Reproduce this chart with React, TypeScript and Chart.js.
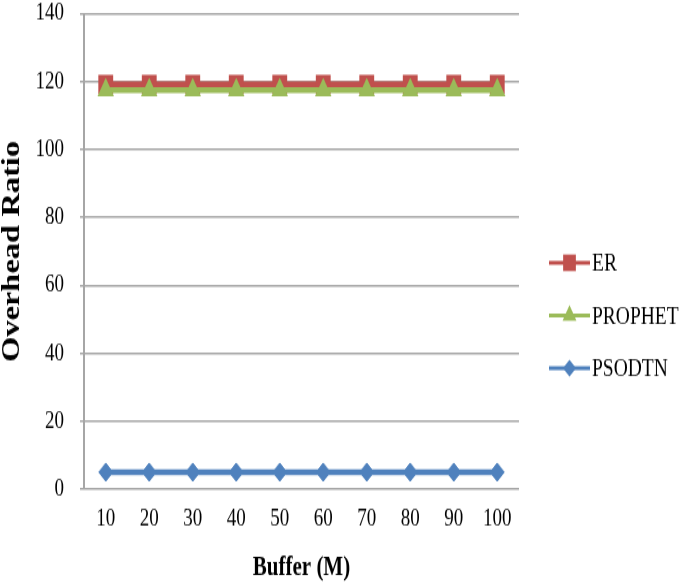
import React, { useEffect, useRef } from 'react';
import { Chart, registerables } from 'chart.js';

Chart.register(...registerables);

// ---- data ----
const categories = ['10', '20', '30', '40', '50', '60', '70', '80', '90', '100'];
const erValues = [119.2, 119.2, 119.2, 119.2, 119.2, 119.2, 119.2, 119.2, 119.2, 119.2];
const prophetValues = [117.5, 117.5, 117.5, 117.5, 117.5, 117.5, 117.5, 117.5, 117.5, 117.5];
const psodtnValues = [5, 5, 5, 5, 5, 5, 5, 5, 5, 5];
const seriesLabels = ['ER', 'PROPHET', 'PSODTN'];
const yMin = 0;
const yMax = 140;
const yStep = 20;
const xTitle = 'Buffer (M)';
const yTitle = 'Overhead Ratio';

// ---- layout (internal canvas is vertically stretched by CSS) ----
const W = 685;
const CSS_H = 588;
const H = 452;
const FONT = "'Liberation Serif', 'Times New Roman', serif";
const GRID = '#a6a6a6';

function drawMarker(ctx: CanvasRenderingContext2D, style: string, x: number, y: number, r: number) {
  ctx.beginPath();
  if (style === 'rect') {
    const s = r * Math.SQRT1_2;
    ctx.rect(x - s, y - s, 2 * s, 2 * s);
  } else if (style === 'triangle') {
    ctx.moveTo(x, y - r);
    ctx.lineTo(x + r * Math.sin(Math.PI / 3), y + r / 2);
    ctx.lineTo(x - r * Math.sin(Math.PI / 3), y + r / 2);
    ctx.closePath();
  } else {
    ctx.moveTo(x - r, y);
    ctx.lineTo(x, y - r);
    ctx.lineTo(x + r, y);
    ctx.lineTo(x, y + r);
    ctx.closePath();
  }
  ctx.fill();
}

const sideLegend = {
  id: 'sideLegend',
  afterDraw(chart: any) {
    const ctx: CanvasRenderingContext2D = chart.ctx;
    const top = 202;
    const gap = 40.5;
    const sizes = [9, 8, 6.5];
    chart.data.datasets.forEach((d: any, i: number) => {
      const y = top + i * gap;
      ctx.save();
      ctx.strokeStyle = d.borderColor;
      ctx.lineWidth = 3;
      ctx.beginPath();
      ctx.moveTo(549, y);
      ctx.lineTo(590, y);
      ctx.stroke();
      ctx.fillStyle = d.borderColor;
      drawMarker(ctx, d.pointStyle, 569.5, y, sizes[i]);
      ctx.fillStyle = '#000';
      ctx.font = `19.5px ${FONT}`;
      ctx.textBaseline = 'middle';
      ctx.textAlign = 'left';
      ctx.fillText(d.label, 592, y + 1);
      ctx.restore();
    });
  },
};

export default function App() {
  const ref = useRef<HTMLCanvasElement | null>(null);

  useEffect(() => {
    if (!ref.current) return;
    const chart = new Chart(ref.current, {
      type: 'line',
      data: {
        labels: categories,
        datasets: [
          {
            label: seriesLabels[0],
            data: erValues,
            borderColor: '#C0504D',
            backgroundColor: '#C0504D',
            borderWidth: 4.5,
            pointStyle: 'rect',
            pointRadius: 10.5,
            pointBorderWidth: 0,
            order: 2,
          },
          {
            label: seriesLabels[1],
            data: prophetValues,
            borderColor: '#9BBB59',
            backgroundColor: '#9BBB59',
            borderWidth: 4.5,
            pointStyle: 'triangle',
            pointRadius: 9.5,
            pointBorderWidth: 0,
            order: 1,
          },
          {
            label: seriesLabels[2],
            data: psodtnValues,
            borderColor: '#4F81BD',
            backgroundColor: '#4F81BD',
            borderWidth: 4.5,
            pointStyle: 'rectRot',
            pointRadius: 7,
            pointBorderWidth: 1,
            order: 0,
          },
        ],
      },
      options: {
        animation: false,
        responsive: false,
        devicePixelRatio: 1,
        layout: { padding: { top: 10, right: 166, bottom: 0, left: 0 } },
        plugins: {
          legend: { display: false },
          tooltip: { enabled: false },
        },
        elements: { line: { tension: 0 } },
        scales: {
          x: {
            offset: true,
            grid: { display: false, drawTicks: false },
            border: { display: false },
            ticks: { color: '#000', font: { family: FONT, size: 19 }, padding: 12, maxRotation: 0 },
            title: {
              display: true,
              text: xTitle,
              color: '#000',
              font: { family: FONT, size: 21, weight: 'bold' },
              padding: { top: 0, bottom: 3 },
            },
            afterFit: (scale: any) => {
              scale.height = 76;
              scale.paddingLeft = 0;
              scale.paddingRight = 0;
            },
          },
          y: {
            min: yMin,
            max: yMax,
            ticks: { stepSize: yStep, color: '#000', font: { family: FONT, size: 19 }, padding: 16 },
            grid: { color: GRID, lineWidth: 1.5, tickLength: 4, drawTicks: true },
            border: { display: true, color: GRID, width: 2 },
            title: {
              display: true,
              text: yTitle,
              color: '#000',
              font: { family: FONT, size: 25, weight: 'bold', lineHeight: 1 },
              padding: { top: 0, bottom: 0 },
            },
            afterFit: (scale: any) => {
              scale.width = 84;
              scale.paddingTop = 0;
              scale.paddingBottom = 0;
            },
          },
        },
      } as any,
      plugins: [sideLegend],
    });
    return () => chart.destroy();
  }, []);

  return (
    <div style={{ position: 'absolute', left: 0, top: 0, width: W, height: CSS_H, background: '#fff' }}>
      <canvas
        ref={ref}
        width={W}
        height={H}
        style={{ display: 'block', width: `${W}px`, height: `${CSS_H}px` }}
      />
    </div>
  );
}
